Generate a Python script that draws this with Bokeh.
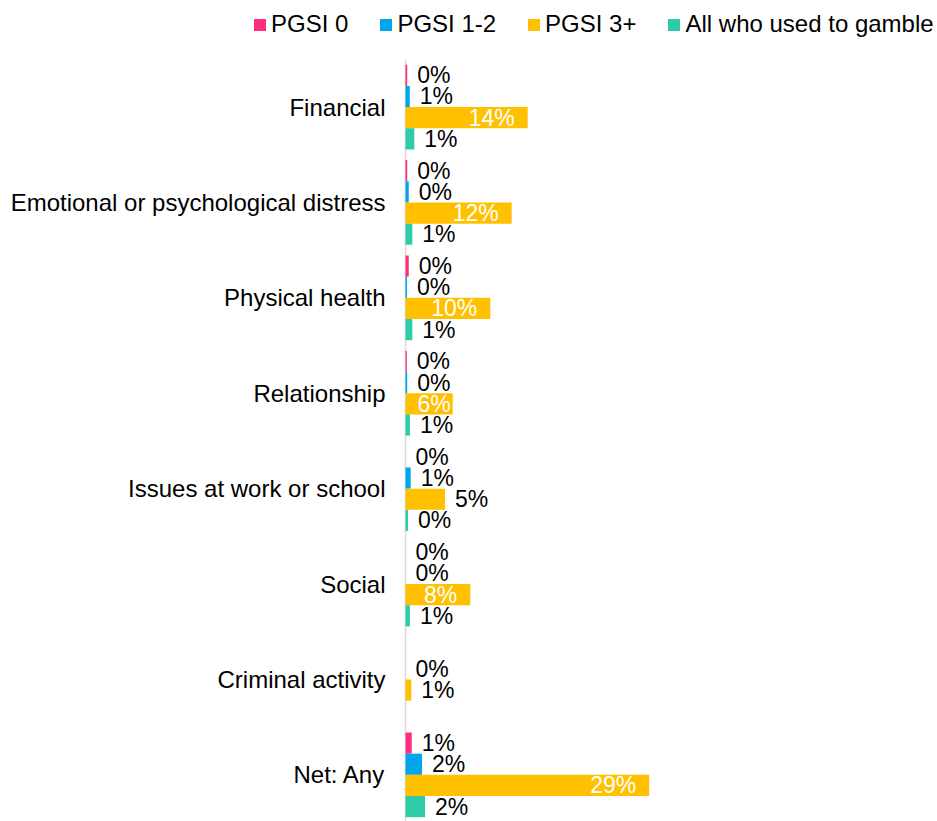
import math
from bokeh.plotting import figure
from bokeh.models import Range1d, ColumnDataSource, Legend, LegendItem
from bokeh.transform import dodge
from bokeh.core.properties import value
from bokeh.embed import file_html
from bokeh.resources import INLINE

nan = float("nan")

categories = [
    "Financial",
    "Emotional or psychological distress",
    "Physical health",
    "Relationship",
    "Issues at work or school",
    "Social",
    "Criminal activity",
    "Net: Any",
]
series_names = ["PGSI 0", "PGSI 1-2", "PGSI 3+", "All who used to gamble"]
pgsi_0 = [0.2, 0.2, 0.38, 0.15, 0.0, 0.0, nan, 0.73]
pgsi_1_2 = [0.5, 0.38, 0.18, 0.2, 0.61, 0.0, 0.0, 1.94]
pgsi_3_plus = [14.34, 12.46, 9.95, 5.54, 4.64, 7.6, 0.68, 28.6]
all_used = [1.03, 0.8, 0.8, 0.52, 0.3, 0.52, nan, 2.29]

series_values = [pgsi_0, pgsi_1_2, pgsi_3_plus, all_used]
colors = ["#FF2D7E", "#00A5EC", "#FFC000", "#2ECBA8"]
offsets = [0.333, 0.111, -0.111, -0.333]
bar_h = 0.222

FONT = "Liberation Sans"

n_cat = len(categories)
# category band centres: first category at the top
cat_pos = [n_cat - i - 0.5 for i in range(n_cat)]

p = figure(
    width=937, height=821,
    x_range=Range1d(-47.535, 62.44),
    y_range=Range1d(0.011, 8.617),
    x_axis_location=None, y_axis_location=None,
    output_backend="svg",
    toolbar_location=None,
    min_border_left=0, min_border_right=0,
    min_border_top=0, min_border_bottom=0,
)
p.outline_line_color = None
p.xgrid.visible = False
p.ygrid.visible = False
p.background_fill_color = "white"
p.border_fill_color = "white"

# vertical category axis line and category labels
p.segment(x0=[0], y0=[0], x1=[0], y1=[n_cat], line_color="#D9D9D9", line_width=1.5)
p.text(x=[0] * n_cat, y=cat_pos, text=categories, x_offset=-20,
       text_align="right", text_baseline="middle",
       text_font=value(FONT), text_font_size=value("24px"), text_color="#000000")

renderers = []
for name, vals, col, off in zip(series_names, series_values, colors, offsets):
    src = ColumnDataSource(dict(pos=cat_pos, val=vals))
    r = p.hbar(y=dodge("pos", off), left=0, right="val",
               height=bar_h, fill_color=col, line_color=None, source=src)
    renderers.append(r)

    out_d = dict(pos=[], x=[], t=[])
    in_d = dict(pos=[], x=[], t=[], xo=[])
    for c, v in zip(cat_pos, vals):
        if v is None or (isinstance(v, float) and math.isnan(v)):
            continue
        txt = f"{int(v + 0.5)}%"
        if name == "PGSI 3+" and v >= 5.5:
            in_d["pos"].append(c); in_d["x"].append(v); in_d["t"].append(txt)
            in_d["xo"].append(-13 if v >= 7 else -2)
        else:
            out_d["pos"].append(c); out_d["x"].append(v); out_d["t"].append(txt)
    if out_d["pos"]:
        p.text(x="x", y=dodge("pos", off), text="t",
               source=ColumnDataSource(out_d), x_offset=10,
               text_align="left", text_baseline="middle",
               text_font=value(FONT), text_font_size=value("23px"),
               text_color="#000000")
    if in_d["pos"]:
        p.text(x="x", y=dodge("pos", off), text="t",
               source=ColumnDataSource(in_d), x_offset="xo",
               text_align="right", text_baseline="middle",
               text_font=value(FONT), text_font_size=value("23px"),
               text_color="#FFFFFF")

legend = Legend(
    items=[LegendItem(label=n, renderers=[r]) for n, r in zip(series_names, renderers)],
    orientation="horizontal",
    location=(252, 783),
    glyph_width=15, glyph_height=15,
    label_standoff=4, spacing=30,
    padding=0, margin=0,
    border_line_color=None, background_fill_alpha=0,
    label_text_font=FONT, label_text_font_size="24px",
    label_text_color="#000000",
)
p.add_layout(legend)

open("out.html", "w").write(file_html(p, INLINE))
